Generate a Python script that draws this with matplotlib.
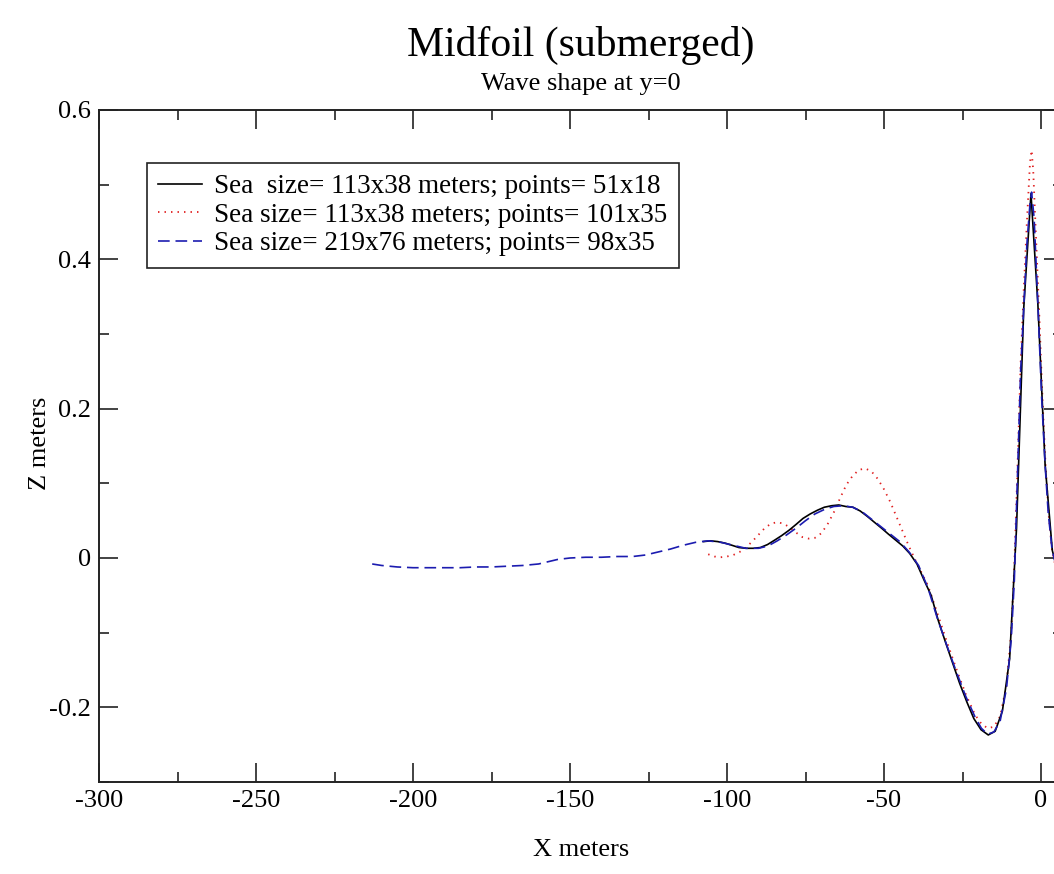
import matplotlib
matplotlib.use("Agg")
import matplotlib.pyplot as plt
from matplotlib.ticker import FixedLocator, FuncFormatter

plt.rcParams["font.family"] = ["Liberation Serif", "DejaVu Serif"]
plt.rcParams["axes.unicode_minus"] = False

# Wave elevation along the centreline (y = 0) for three sea grids
x_coarse = [-107.5, -105.2, -103.0, -100.7, -98.4, -96.2, -93.9, -91.6, -89.4, -87.1,
            -84.8, -82.6, -80.3, -78.0, -75.8, -73.5, -71.2, -69.0, -66.7, -64.4,
            -62.2, -59.9, -57.6, -55.4, -53.1, -50.8, -48.6, -46.3, -44.0, -41.8,
            -39.5, -37.2, -35.0, -32.7, -30.4, -28.2, -25.9, -23.6, -21.4, -19.1,
            -16.8, -14.6, -12.3, -10.0, -7.8, -5.5, -3.2, -1.0, 1.3, 3.6, 5.8]
z_coarse = [0.022, 0.023, 0.022, 0.020, 0.017, 0.014, 0.013, 0.013, 0.014, 0.018,
            0.024, 0.030, 0.037, 0.045, 0.053, 0.059, 0.064, 0.068, 0.070, 0.071,
            0.069, 0.068, 0.063, 0.056, 0.048, 0.040, 0.032, 0.024, 0.016, 0.006,
            -0.008, -0.030, -0.050, -0.084, -0.113, -0.140, -0.168, -0.193, -0.215, -0.230,
            -0.237, -0.232, -0.205, -0.135, 0.040, 0.335, 0.488, 0.340, 0.125, 0.010, -0.025]

x_fine = [-106.0, -104.0, -102.0, -100.0, -98.0, -96.0, -94.0, -92.0, -90.0, -88.0,
          -86.0, -84.0, -82.0, -80.0, -78.0, -76.0, -74.0, -72.0, -70.0, -68.0,
          -66.0, -64.0, -62.0, -60.0, -58.0, -56.0, -54.0, -52.0, -50.0, -48.0,
          -46.0, -44.0, -42.0, -40.0, -38.0, -36.0, -33.0, -30.0, -27.0, -24.0,
          -21.0, -19.0, -17.0, -15.0, -13.0, -11.0, -9.5, -8.5, -7.5, -6.5,
          -5.5, -4.5, -3.5, -3.0, -2.5, -1.5, -0.5, 0.5, 1.5, 2.5, 3.5, 5.0]
z_fine = [0.005, 0.002, 0.001, 0.002, 0.004, 0.008, 0.014, 0.022, 0.031, 0.040,
          0.046, 0.048, 0.046, 0.041, 0.034, 0.028, 0.026, 0.027, 0.033, 0.045,
          0.061, 0.080, 0.098, 0.110, 0.118, 0.120, 0.116, 0.106, 0.092, 0.075,
          0.055, 0.035, 0.015, -0.003, -0.020, -0.037, -0.074, -0.112, -0.148, -0.182,
          -0.210, -0.222, -0.228, -0.226, -0.212, -0.170, -0.100, -0.010, 0.120, 0.260,
          0.360, 0.450, 0.530, 0.546, 0.520, 0.420, 0.320, 0.210, 0.120, 0.055, 0.012, -0.020]

x_large = [-213.0, -210.0, -205.0, -200.0, -195.0, -190.0, -185.0, -180.0, -175.0, -170.0,
           -165.0, -160.0, -157.0, -154.0, -150.0, -145.0, -140.0, -135.0, -130.0, -126.0,
           -122.0, -118.0, -114.0, -110.0, -106.0, -102.0, -98.0, -94.0, -90.0, -87.0,
           -84.0, -81.0, -78.0, -75.0, -72.0, -69.0, -66.0, -63.0, -60.0, -57.0,
           -54.0, -51.0, -48.0, -45.0, -42.0, -39.0, -36.0, -33.0, -30.0, -27.0,
           -24.0, -21.0, -19.0, -17.0, -15.0, -13.0, -11.0, -9.5, -8.5, -7.5,
           -6.5, -5.5, -4.5, -3.5, -3.0, -2.2, -1.0, 0.2, 1.3, 2.3, 3.5, 5.0, 6.5]
z_large = [-0.008, -0.010, -0.012, -0.013, -0.013, -0.013, -0.013, -0.012, -0.012, -0.011,
           -0.010, -0.008, -0.005, -0.002, 0.000, 0.001, 0.001, 0.002, 0.002, 0.004,
           0.008, 0.012, 0.017, 0.021, 0.023, 0.021, 0.017, 0.013, 0.013, 0.016,
           0.023, 0.031, 0.040, 0.050, 0.059, 0.065, 0.069, 0.070, 0.068, 0.062,
           0.052, 0.042, 0.032, 0.022, 0.008, -0.010, -0.040, -0.081, -0.117, -0.152,
           -0.185, -0.213, -0.228, -0.236, -0.233, -0.218, -0.175, -0.110, -0.030, 0.110,
           0.250, 0.335, 0.420, 0.475, 0.490, 0.455, 0.340, 0.215, 0.125, 0.060, 0.012, -0.015, -0.030]

series_labels = ["Sea  size= 113x38 meters; points= 51x18",
                 "Sea size= 113x38 meters; points= 101x35",
                 "Sea size= 219x76 meters; points= 98x35"]

x_major = [-300, -250, -200, -150, -100, -50, 0]
x_minor = [-275, -225, -175, -125, -75, -25, 25]
y_major = [-0.2, 0.0, 0.2, 0.4, 0.6]
y_minor = [-0.3, -0.1, 0.1, 0.3, 0.5]

W, H = 1054, 874
fig = plt.figure(figsize=(W / 100, H / 100), dpi=100)
# plot frame in pixels: left 99, right 1063 (just past the canvas edge), top 110, bottom 782
ax = fig.add_axes([99 / W, (H - 782) / H, (1063 - 99) / W, (782 - 110) / H])

ax.plot(x_coarse, z_coarse, color="black", lw=1.2, label=series_labels[0], zorder=3)
ax.plot(x_fine, z_fine, color="#e02020", lw=1.3, linestyle=(0, (0.8, 2.8)),
        label=series_labels[1], zorder=2)
ax.plot(x_large, z_large, color="#1c1cb0", lw=1.2, linestyle=(0, (7, 3.5)),
        label=series_labels[2], zorder=4)

ax.set_xlim(-300, 7)
ax.set_ylim(-0.3, 0.6)

ax.xaxis.set_major_locator(FixedLocator(x_major))
ax.xaxis.set_minor_locator(FixedLocator(x_minor))
ax.yaxis.set_major_locator(FixedLocator(y_major))
ax.yaxis.set_minor_locator(FixedLocator(y_minor))
fmt = FuncFormatter(lambda v, p: "%g" % (round(v, 6) + 0.0))
ax.xaxis.set_major_formatter(fmt)
ax.yaxis.set_major_formatter(fmt)

ax.tick_params(which="both", direction="in", top=True, right=True, width=1.2,
               color="#222222")
ax.tick_params(which="major", length=13.7, labelsize=19, pad=6)
ax.tick_params(which="minor", length=7.2)
for s in ax.spines.values():
    s.set_linewidth(1.4)
    s.set_color("#222222")

ax.set_xlabel("X meters", fontsize=19)
ax.xaxis.set_label_coords(0.5, -0.085)
ax.set_ylabel("Z meters", fontsize=19)
ax.yaxis.set_label_coords(-0.050, 0.504)

fig.text(581 / W, 1 - 56 / H, "Midfoil (submerged)", ha="center", va="baseline",
         fontsize=30)
fig.text(581 / W, 1 - 90 / H, "Wave shape at y=0", ha="center", va="baseline",
         fontsize=19)

leg = ax.legend(loc="upper left", bbox_to_anchor=((147 - 99) / 964, (782 - 163) / 672),
                borderaxespad=0, fontsize=19.5, frameon=True, fancybox=False,
                edgecolor="#222222", framealpha=1, labelspacing=0.13,
                handlelength=1.6, handletextpad=0.45, borderpad=0.42)
leg.get_frame().set_linewidth(1.2)

fig.savefig("out.png", dpi=100)
